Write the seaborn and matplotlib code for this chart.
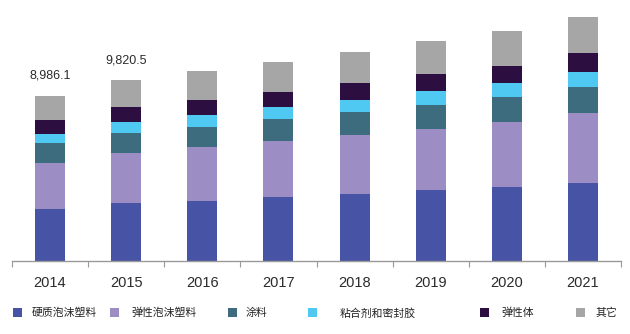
import matplotlib
matplotlib.use("Agg")
import matplotlib.pyplot as plt
import seaborn as sns
import numpy as np

years = ["2014", "2015", "2016", "2017", "2018", "2019", "2020", "2021"]
series = ["硬质泡沫塑料", "弹性泡沫塑料", "涂料", "粘合剂和密封胶", "弹性体", "其它"]
rigid_foam = [2800, 3123, 3254, 3450, 3635, 3831, 4033, 4235]
flexible_foam = [2545, 2747, 2921, 3074, 3216, 3346, 3526, 3777]
coatings = [1052, 1090, 1112, 1161, 1215, 1286, 1363, 1433]
adhesives = [512, 600, 632, 654, 670, 747, 725, 818]
elastomers = [725, 780, 818, 856, 910, 965, 965, 1019]
others = [1352, 1480, 1564, 1613, 1690, 1744, 1886, 1946]
total_labels = ["8,986.1", "9,820.5"]

colors = ["#4753a4", "#9c8ec5", "#3c6c7e", "#4fc9f1", "#2c0e40", "#a6a6a6"]

sns.set_theme(style="white")
plt.rcParams["font.family"] = ["Liberation Sans", "Noto Sans CJK SC", "DejaVu Sans"]

fig = plt.figure(figsize=(6.30, 3.34), dpi=100)
ax = fig.add_axes([12 / 630, (334 - 261) / 334, 609 / 630, 261 / 334])

data = [rigid_foam, flexible_foam, coatings, adhesives, elastomers, others]
bottom = np.zeros(len(years))
for vals, col in zip(data, colors):
    sns.barplot(x=years, y=vals, bottom=bottom, color=col, width=0.394,
                saturation=1, errorbar=None, ax=ax, linewidth=0)
    bottom = bottom + np.array(vals, dtype=float)

ax.set_xlim(-0.5, len(years) - 0.5)
ax.set_ylim(0, 261 * 54.3)
ax.set_xlabel("")
ax.set_ylabel("")
ax.set_yticks([])
for s in ["top", "right", "left"]:
    ax.spines[s].set_visible(False)
ax.spines["bottom"].set_color("#999999")
ax.spines["bottom"].set_linewidth(1.0)
ax.tick_params(axis="x", which="major", length=0, pad=10.5,
               labelsize=10.5, labelcolor="#2b2b2b")
ax.set_xticks(np.arange(-0.5, len(years) + 0.5, 1), minor=True)
ax.tick_params(axis="x", which="minor", length=4.5, width=0.8,
               color="#999999", direction="out", bottom=True)

for i, lab in enumerate(total_labels):
    ax.annotate(lab, xy=(i, bottom[i]), xytext=(0, 10), textcoords="offset points",
                ha="center", va="bottom", fontsize=9, color="#2b2b2b")

# legend items placed individually as in the reference
sq_centers = [17.3, 114.7, 232.5, 312.8, 484, 580]
text_starts = [31.7, 131, 246, 340, 501.7, 595]
fs = 7.8
px_per_em = fs * 100 / 72
sq = 9.0
for i, name in enumerate(series):
    handle = ax.containers[i].patches[0]
    left = sq_centers[i] - sq / 2
    gap = (text_starts[i] - (left + sq)) / px_per_em
    fig.legend([handle], [name], loc="center left",
               bbox_to_anchor=(left / 630, 1 - 313 / 334),
               frameon=False, borderpad=0, borderaxespad=0,
               handlelength=sq / px_per_em, handleheight=sq / px_per_em,
               handletextpad=gap,
               prop={"family": ["Noto Sans CJK SC", "DejaVu Sans"], "size": fs},
               labelcolor="#222222")

fig.savefig("out.png", dpi=100)
